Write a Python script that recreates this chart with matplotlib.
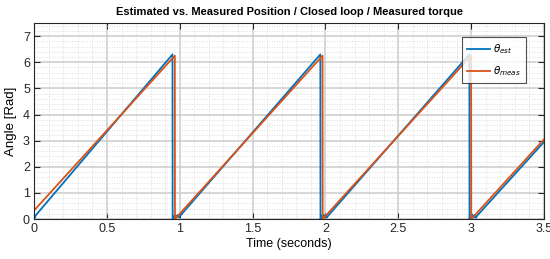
import matplotlib
matplotlib.use("Agg")
import matplotlib.pyplot as plt
from matplotlib.ticker import MultipleLocator

# Measured position (vertices of the sawtooth)
meas_t = [0.0, 0.966, 0.967, 1.980, 1.981, 3.000, 3.001, 3.5]
meas_v = [0.33, 6.25, 0.0, 6.25, 0.0, 6.25, 0.0, 3.05]

# Estimated position (vertices, incl. small wiggles after each wrap)
est_t = [0.0, 0.005, 0.012, 0.950, 0.951, 0.958, 0.965, 0.972, 0.980, 0.988, 0.995, 1.005,
         1.965, 1.966, 1.973, 1.980, 1.987, 1.995, 2.003, 2.010, 2.020,
         2.988, 2.989, 2.996, 3.003, 3.010, 3.018, 3.026, 3.033, 3.043,
         3.5]
est_v = [0.05, 0.05, 0.15, 6.30, 0.0, 0.12, 0.02, 0.15, 0.08, 0.16, 0.06, 0.14,
         6.30, 0.0, 0.14, 0.03, 0.16, 0.07, 0.17, 0.06, 0.14,
         6.30, 0.0, 0.14, 0.02, 0.17, 0.06, 0.16, 0.05, 0.14,
         2.95]

xticks = [0, 0.5, 1, 1.5, 2, 2.5, 3, 3.5]
xticklabels = ["0", "0.5", "1", "1.5", "2", "2.5", "3", "3.5"]
yticks = [0, 1, 2, 3, 4, 5, 6, 7]

blue = "#0072BD"
orange = "#D95319"

plt.rcParams['font.family'] = ['Liberation Sans Narrow', 'Liberation Sans', 'DejaVu Sans']

fig = plt.figure(figsize=(5.5, 2.59), dpi=100)
ax = fig.add_axes([0.062, 0.154, 0.927, 0.757])

ax.plot(est_t, est_v, color=blue, lw=1.3, label=r"$\theta_{est}$")
ax.plot(meas_t, meas_v, color=orange, lw=1.3, label=r"$\theta_{meas}$")

ax.set_xlim(0, 3.5)
ax.set_ylim(0, 7.5)
ax.set_xticks(xticks)
ax.set_xticklabels(xticklabels)
ax.set_yticks(yticks)
ax.xaxis.set_minor_locator(MultipleLocator(0.1))
ax.yaxis.set_minor_locator(MultipleLocator(0.2))
ax.grid(which='major', color='#cccccc', lw=1.1, ls='-')
ax.grid(which='minor', color='#d4d4d4', lw=0.6, ls=(0, (1, 2)))
ax.set_axisbelow(True)
ax.tick_params(which='major', direction='in', top=True, right=True, length=4,
               labelsize=9, colors='#262626', pad=3)
ax.tick_params(which='minor', length=0, top=True, right=True)
for s in ax.spines.values():
    s.set_color('#262626')
    s.set_linewidth(0.8)

ax.set_title("Estimated vs. Measured Position / Closed loop / Measured torque",
             fontsize=8, fontweight='bold', pad=6)
ax.set_xlabel("Time (seconds)", fontsize=9, labelpad=2)
ax.set_ylabel("Angle [Rad]", fontsize=9.5, labelpad=4)

leg = ax.legend(loc='upper right', fontsize=7.5, frameon=True, fancybox=False,
                edgecolor='#262626', handlelength=2.2, handletextpad=0.3,
                borderpad=0.5, labelspacing=0.8, bbox_to_anchor=(0.975, 0.955))
leg.get_frame().set_linewidth(0.8)

fig.savefig("out.png", dpi=100)
